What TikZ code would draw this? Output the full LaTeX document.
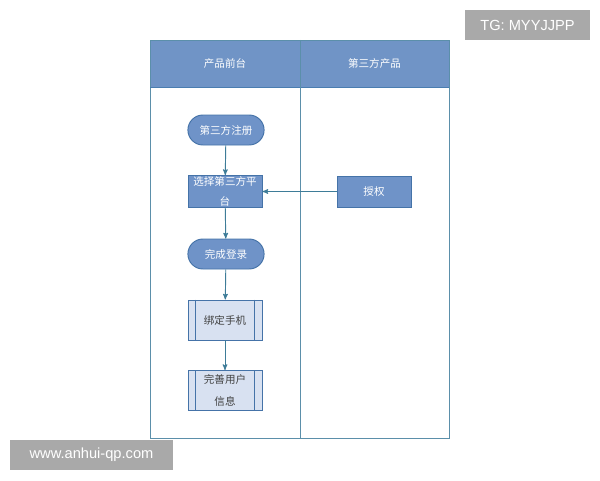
\documentclass[tikz,border=0pt]{standalone}
\usepackage{fontspec}
\setmainfont{Liberation Sans}
\newfontfamily\cjk{Noto Sans CJK SC}
\usetikzlibrary{arrows,shapes}
\usetikzlibrary{positioning}
\definecolor{lanefill}{HTML}{7094C6}
\definecolor{laneline}{HTML}{4A7DB0}
\definecolor{lanebox}{HTML}{5B8FAA}
\definecolor{boxfill}{HTML}{6F93C8}
\definecolor{boxline}{HTML}{4573A8}
\definecolor{subfill}{HTML}{D8E1F1}
\definecolor{arrowcol}{HTML}{3E7C98}
\definecolor{markgray}{HTML}{A9A9A9}
\tikzset{
    >=stealth',
    terminal/.style={draw=boxline, fill=boxfill, rounded rectangle, line width=0.8pt,
        minimum width=84*0.03cm, minimum height=30*0.03cm, text=white, font=\cjk\fontsize{9}{11}\selectfont},
    process/.style={draw=boxline, fill=boxfill, rectangle, line width=0.8pt,
        minimum width=74*0.03cm, minimum height=31*0.03cm, text=white, inner sep=1pt,
        align=center, font=\cjk\fontsize{9}{17}\selectfont},
    subproc/.style={draw=boxline, fill=subfill, rectangle, line width=0.8pt,
        minimum width=74*0.03cm, minimum height=40*0.03cm, text=black!75, inner sep=1pt,
        align=center, font=\cjk\fontsize{9}{19}\selectfont},
    flow/.style={->, draw=arrowcol, line width=0.8pt},
    watermark/.style={fill=markgray, text=white, font=\fontsize{12.5}{14}\selectfont, inner sep=0pt},
}
\usetikzlibrary{shapes.misc}
\begin{document}
\begin{tikzpicture}[x=0.03cm, y=-0.03cm]
\useasboundingbox (0,0) rectangle (600,480);
% swimlanes
\fill[lanefill] (150,40) rectangle (449,87);
\draw[lanebox, line width=0.8pt] (150,40) rectangle (449,438);
\draw[laneline, line width=0.8pt] (150,87) -- (449,87);
\draw[lanebox, line width=0.8pt] (300,40) -- (300,438);
\node[text=white, font=\cjk\fontsize{9}{11}\selectfont] (lanea) at (225,63.5) {产品前台};
\node[text=white, font=\cjk\fontsize{9}{11}\selectfont] (laneb) at (374.5,63.5) {第三方产品};
% nodes
\node[terminal] (reg) at (226,130) {第三方注册};
\node[process] (sel) at (225,191.5) {选择第三方平\\台};
\node[process] (auth) at (374,191.5) {授权};
\node[terminal] (login) at (226,254) {完成登录};
\node[subproc] (phone) at (225,320) {绑定手机};
\node[subproc] (info) at (225,390.5) {完善用户\\信息};
\foreach \n in {phone,info}{
    \draw[boxline, line width=0.8pt] ([xshift=8*0.03cm]\n.north west) -- ([xshift=8*0.03cm]\n.south west);
    \draw[boxline, line width=0.8pt] ([xshift=-8*0.03cm]\n.north east) -- ([xshift=-8*0.03cm]\n.south east);
}
% connectors
\draw[flow] (reg) -- (sel);
\draw[flow] (auth) -- (sel);
\draw[flow] (sel) -- (login);
\draw[flow] (login) -- (phone);
\draw[flow] (phone) -- (info);
% overlays
\node[watermark, minimum width=125*0.03cm, minimum height=30*0.03cm] (tg) at (527.5,25) {TG: MYYJJPP};
\node[watermark, minimum width=163*0.03cm, minimum height=30*0.03cm] (site) at (91.5,455) {www.anhui-qp.com};
\end{tikzpicture}
\end{document}
